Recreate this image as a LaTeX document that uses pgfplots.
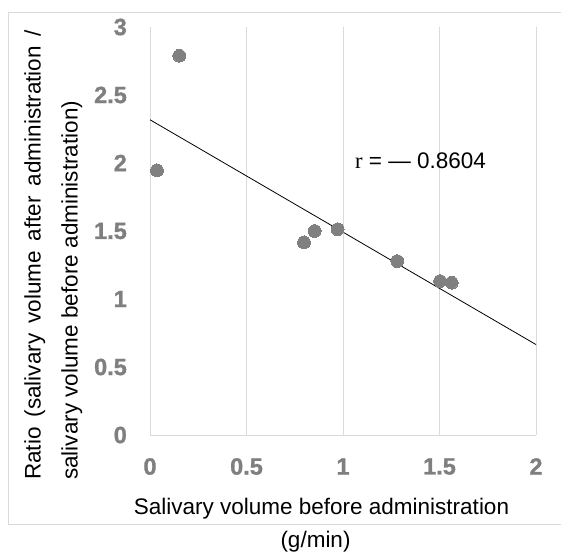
\documentclass[border=0pt]{standalone}
\usepackage{fontspec}
\setmainfont{Liberation Sans}[BoldFont={Liberation Sans Bold}]
\newfontfamily\timesr{Liberation Serif}
\newfontfamily\tickfont{Liberation Sans Bold}[FakeBold=1.2]
\usepackage{pgfplots}
\pgfplotsset{compat=1.18}
\definecolor{gridgray}{HTML}{D9D9D9}
\definecolor{ptgray}{HTML}{808080}
\definecolor{tickgray}{HTML}{7F7F7F}

\begin{document}
\begin{tikzpicture}[x=1pt,y=1pt]
\begin{axis}[
  at={(150pt,116pt)}, anchor=south west,
  scale only axis, width=386pt, height=408pt,
  xmin=0, xmax=2, ymin=0, ymax=3,
  xtick={0,0.5,1,1.5,2}, ytick={0,0.5,1,1.5,2,2.5,3},
  xticklabels={0,0.5,1,1.5,2},
  yticklabels={0,0.5,1,1.5,2,2.5,3},
  axis lines*=left,
  axis line style={draw=gridgray, line width=0.9pt, -},
  major tick length=0pt,
  xmajorgrids,
  major grid style={draw=gridgray, line width=0.9pt},
  ticklabel style={font=\tickfont\fontsize{23.5}{23.5}\selectfont, text=tickgray, inner sep=0pt},
  xticklabel style={anchor=center, yshift=-31.5pt},
  yticklabel style={anchor=east, xshift=-23pt},
  clip=false,
]
% trend line
\addplot[black, line width=0.8pt] coordinates {(0,2.318) (2,0.665)};
% measurements
\addplot[ptgray, only marks, mark=*, mark size=6.4pt, mark options={fill=ptgray, draw=ptgray, line width=0pt}]
  coordinates {
  (0.036,1.946)
  (0.152,2.789)
  (0.798,1.417)
  (0.853,1.500)
  (0.972,1.512)
  (1.281,1.279)
  (1.503,1.132)
  (1.563,1.120)
};
\node[anchor=base west, inner sep=0pt, font=\fontsize{22.5}{22.5}\selectfont]
  at (axis cs:1.062,1.961) {{\timesr r} = — 0.8604};
\end{axis}
% chart frame
\draw[gridgray, line width=0.9pt] (8,539) -- (566,539);
\draw[gridgray, line width=0.9pt] (8,539) -- (8,27) -- (566,27);
% axis titles
\begin{scope}[every node/.style={inner sep=0pt, font=\fontsize{22.5}{22.5}\selectfont}]
\node[anchor=base] at (321.5,37) {Salivary volume before administration};
\node[anchor=base] at (315.5,4) {(g/min)};
\node[rotate=90, anchor=base west] at (40.5,71)
  {\makebox[450pt][s]{Ratio (salivary volume after administration /}};
\node[rotate=90, anchor=base west] at (77.5,71) {salivary volume before administration)};
\end{scope}
\pgfresetboundingbox
\path[use as bounding box] (0,0) rectangle (561,551);
\end{tikzpicture}
\end{document}
